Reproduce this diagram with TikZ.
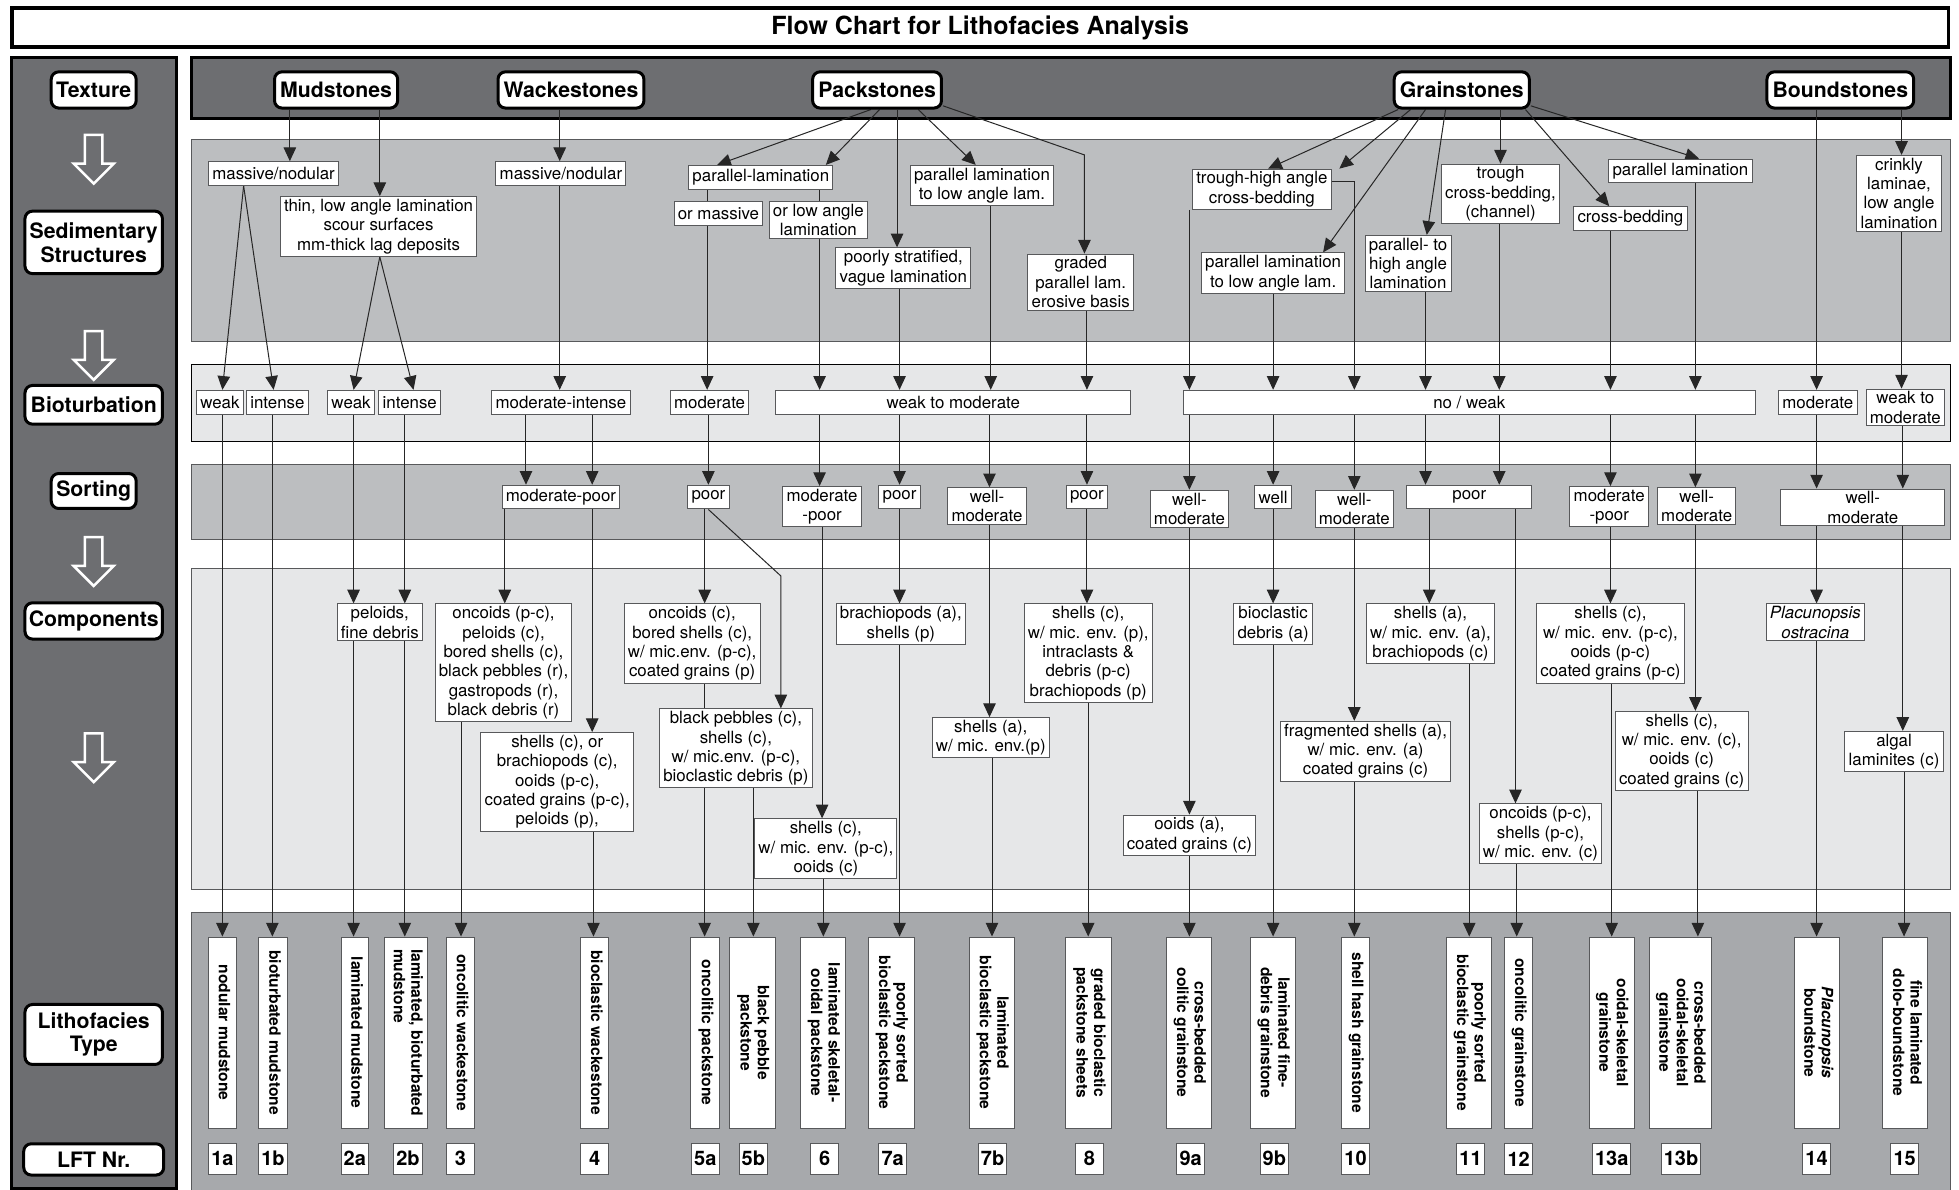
\documentclass[tikz,border=0pt]{standalone}
\usepackage{fontspec}
\setmainfont{TeX Gyre Heros}
\usetikzlibrary{arrows.meta}

\pgfdeclarelayer{bg}
\pgfdeclarelayer{mid}
\pgfsetlayers{bg,mid,main}

\definecolor{darkband}{HTML}{6D6E71}
\definecolor{midband}{HTML}{BCBEC0}
\definecolor{lightband}{HTML}{E6E7E8}
\definecolor{lithband}{HTML}{A7A9AC}
\definecolor{boxgray}{HTML}{58595B}
\definecolor{linkgray}{HTML}{262626}

\tikzset{
    band/.style={draw=boxgray, line width=0.8pt},
    rowname/.style={draw, line width=2.4pt, rounded corners=6pt, fill=white, align=center,
        inner sep=2pt, font=\fontsize{17}{19}\selectfont\bfseries},
    texture/.style={rowname, minimum height=29pt, inner xsep=4.5pt},
    sbox/.style={draw=boxgray, line width=0.8pt, fill=white, align=center, anchor=north,
        minimum height=19pt, inner xsep=3pt, inner ysep=2pt, font=\fontsize{13.5}{15.5}\selectfont},
    lith/.style={draw=boxgray, line width=0.8pt, fill=white, minimum height=153pt, inner sep=0pt,
        font=\fontsize{12.5}{14}\selectfont\bfseries},
    lftnr/.style={draw=boxgray, line width=0.8pt, fill=white, minimum height=25pt, minimum width=22pt,
        inner xsep=2pt, inner ysep=0pt, font=\fontsize{16}{18}\selectfont\bfseries},
    link/.style={draw=linkgray, line width=0.8pt, -{Triangle[length=11pt,width=10pt]}},
    plain/.style={draw=linkgray, line width=0.8pt},
    hollow/.style={draw=white, line width=2pt}
}

\newcommand{\linkdown}[3]{\draw[link] (#1,0 |- #2.south) -- (#1,0 |- #3.north);}
\newcommand{\vtext}[1]{\rotatebox{-90}{\begin{tabular}{@{}c@{}}#1\end{tabular}}}
\newcommand{\vtextl}[1]{\rotatebox{-90}{\begin{tabular}{@{}l@{}}#1\end{tabular}}}

\begin{document}
\begin{tikzpicture}[x=1pt, y=-1pt]
    \useasboundingbox (0,0) rectangle (1568,952);

    % bands and side column
    \begin{pgfonlayer}{bg}
        \fill[white] (0,0) rectangle (1568,952);
        \draw[fill=darkband, line width=2.5pt] (9,46) rectangle (141,951);
        \draw[fill=darkband, line width=2.4pt] (153,46) rectangle (1561,95);
        \draw[band, fill=midband] (153,112) rectangle (1561,273);
        \draw[band, draw=black, fill=lightband] (153,292) rectangle (1561,353);
        \draw[band, fill=midband] (153,372) rectangle (1561,432);
        \draw[band, fill=lightband] (153,455) rectangle (1561,712);
        \draw[band, fill=lithband] (153,730) rectangle (1561,956);
        \foreach \y in {108,265,430,587}
            \draw[hollow] (68,\y) -- ++(14,0) -- ++(0,23) -- ++(9,0) -- ++(-16,16) -- ++(-16,-16) -- ++(9,0) -- cycle;
    \end{pgfonlayer}

    \node[draw, line width=3pt, minimum width=1550pt, minimum height=31pt,
          font=\fontsize{20}{24}\selectfont\bfseries] (title) at (784.5,22) {Flow Chart for Lithofacies Analysis};

    % row names
    \node[rowname, minimum width=68pt, minimum height=29pt]  (ltex)  at (75,72)  {Texture};
    \node[rowname, minimum width=110pt, minimum height=50pt] (lsed)  at (75,194) {Sedimentary\\Structures};
    \node[rowname, minimum width=110pt, minimum height=31pt] (lbio)  at (75,324) {Bioturbation};
    \node[rowname, minimum width=68pt, minimum height=28pt]  (lsort) at (75,393) {Sorting};
    \node[rowname, minimum width=110pt, minimum height=29pt] (lcomp) at (75,497) {Components};
    \node[rowname, minimum width=110pt, minimum height=48pt] (llith) at (75,828) {Lithofacies\\Type};
    \node[rowname, minimum width=112pt, minimum height=25pt] (lnr)   at (75,928) {LFT Nr.};

    % texture
    \node[texture] (mud)   at (269,72)  {Mudstones};
    \node[texture] (wack)  at (457,72)  {Wackestones};
    \node[texture] (pack)  at (702,72)  {Packstones};
    \node[texture] (grain) at (1170,72) {Grainstones};
    \node[texture] (bound) at (1473,72) {Boundstones};

    % sedimentary structures
    \node[sbox] (msmass) at (219,129)  {massive/nodular};
    \node[sbox] (msthin) at (303,157)  {thin, low angle lamination\\scour surfaces\\mm-thick lag deposits};
    \node[sbox] (wkmass) at (449,129)  {massive/nodular};
    \node[sbox] (pkpar)  at (609,132)  {parallel-lamination};
    \node[sbox] (pkmas)  at (575,161)  {or massive};
    \node[sbox] (pklow)  at (655,161)  {or low angle\\lamination};
    \node[sbox] (pkpoor) at (723,198)  {poorly stratified,\\vague lamination};
    \node[sbox] (pkpl)   at (786,132)  {parallel lamination\\to low angle lam.};
    \node[sbox] (pkgrad) at (865,203)  {graded\\parallel lam.\\erosive basis};
    \node[sbox] (grtrh)  at (1010,135) {trough-high angle\\cross-bedding};
    \node[sbox] (grpl)   at (1019,202) {parallel lamination\\to low angle lam.};
    \node[sbox] (grph)   at (1127,188) {parallel- to\\high angle\\lamination};
    \node[sbox] (grtr)   at (1201,131) {trough\\cross-bedding,\\(channel)};
    \node[sbox] (grcb)   at (1305,165) {cross-bedding};
    \node[sbox] (grpar)  at (1345,127) {parallel lamination};
    \node[sbox] (bdcr)   at (1520,124) {crinkly\\laminae,\\low angle\\lamination};

    % bioturbation
    \node[sbox] (b1a)   at (176,312)  {weak};
    \node[sbox] (b1b)   at (222,312)  {intense};
    \node[sbox] (b2a)   at (281,312)  {weak};
    \node[sbox] (b2b)   at (328,312)  {intense};
    \node[sbox] (bmi)   at (449,312)  {moderate-intense};
    \node[sbox] (bmod)  at (568,312)  {moderate};
    \node[sbox, minimum width=284pt] (bwm) at (763,312) {weak to moderate};
    \node[sbox, minimum width=458pt] (bnw) at (1176,312) {no / weak};
    \node[sbox] (bmod2) at (1455,312) {moderate};
    \node[sbox] (bwm2)  at (1525,311) {weak to\\moderate};

    % sorting
    \node[sbox] (smp)  at (449,388)  {moderate-poor};
    \node[sbox] (s5)   at (567,388)  {poor};
    \node[sbox] (s6)   at (658,389)  {moderate\\-poor};
    \node[sbox] (s7a)  at (720,388)  {poor};
    \node[sbox] (s7b)  at (790,390)  {well-\\moderate};
    \node[sbox] (s8)   at (870,388)  {poor};
    \node[sbox] (s9a)  at (952,392)  {well-\\moderate};
    \node[sbox] (s9b)  at (1019,388) {well};
    \node[sbox] (s10)  at (1084,392) {well-\\moderate};
    \node[sbox, minimum width=100pt] (s11) at (1176,388) {poor};
    \node[sbox] (s13a) at (1288,389) {moderate\\-poor};
    \node[sbox] (s13b) at (1358,390) {well-\\moderate};
    \node[sbox, minimum width=131pt] (s14) at (1491,391) {well-\\moderate};

    % components
    \node[sbox] (c2)   at (304,483)  {peloids,\\fine debris};
    \node[sbox] (c3)   at (403,483)  {oncoids (p-c),\\peloids (c),\\bored shells (c),\\black pebbles (r),\\gastropods (r),\\black debris (r)};
    \node[sbox] (c4)   at (446,586)  {shells (c), or\\brachiopods (c),\\ooids (p-c),\\coated grains (p-c),\\peloids (p),};
    \node[sbox] (c5a)  at (554,483)  {oncoids (c),\\bored shells (c),\\w/ mic.env. (p-c),\\coated grains (p)};
    \node[sbox] (c5b)  at (589,567)  {black pebbles (c),\\shells (c),\\w/ mic.env. (p-c),\\bioclastic debris (p)};
    \node[sbox] (c6)   at (661,655)  {shells (c),\\w/ mic. env. (p-c),\\ooids (c)};
    \node[sbox] (c7a)  at (721,483)  {brachiopods (a),\\shells (p)};
    \node[sbox] (c7b)  at (793,574)  {shells (a),\\w/ mic. env.(p)};
    \node[sbox] (c8)   at (871,483)  {shells (c),\\w/ mic. env. (p),\\intraclasts \&\\debris (p-c)\\brachiopods (p)};
    \node[sbox] (c9a)  at (952,652)  {ooids (a),\\coated grains (c)};
    \node[sbox] (c9b)  at (1019,483) {bioclastic\\debris (a)};
    \node[sbox] (c10)  at (1093,577) {fragmented shells (a),\\w/ mic. env. (a)\\coated grains (c)};
    \node[sbox] (c11)  at (1145,483) {shells (a),\\w/ mic. env. (a),\\brachiopods (c)};
    \node[sbox] (c12)  at (1233,643) {oncoids (p-c),\\shells (p-c),\\w/ mic. env. (c)};
    \node[sbox] (c13a) at (1289,483) {shells (c),\\w/ mic. env. (p-c),\\ooids (p-c)\\coated grains (p-c)};
    \node[sbox] (c13b) at (1346,569) {shells (c),\\w/ mic. env. (c),\\ooids (c)\\coated grains (c)};
    \node[sbox] (c14)  at (1453,483) {\textit{Placunopsis}\\\textit{ostracina}};
    \node[sbox] (c15)  at (1516,585) {algal\\laminites (c)};

    % lithofacies types
    \node[lith, minimum width=22pt] (lt1a)  at (178,826.5)    {\vtext{nodular mudstone}};
    \node[lith, minimum width=23pt] (lt1b)  at (218.5,826.5)  {\vtext{bioturbated mudstone}};
    \node[lith, minimum width=22pt] (lt2a)  at (284,826.5)    {\vtext{laminated mudstone}};
    \node[lith, minimum width=34pt] (lt2b)  at (325,826.5)    {\vtextl{laminated, bioturbated\\mudstone}};
    \node[lith, minimum width=23pt] (lt3)   at (368.5,826.5)  {\vtext{oncolitic wackestone}};
    \node[lith, minimum width=22pt] (lt4)   at (476,826.5)    {\vtext{bioclastic wackestone}};
    \node[lith, minimum width=23pt] (lt5a)  at (564.5,826.5)  {\vtext{oncolitic packstone}};
    \node[lith, minimum width=37pt] (lt5b)  at (602.5,826.5)  {\vtext{black pebble\\packstone}};
    \node[lith, minimum width=36pt] (lt6)   at (659,826.5)    {\vtext{laminated skeletal-\\ooidal packstone}};
    \node[lith, minimum width=37pt] (lt7a)  at (713.5,826.5)  {\vtext{poorly sorted\\bioclastic packstone}};
    \node[lith, minimum width=36pt] (lt7b)  at (794,826.5)    {\vtext{laminated\\bioclastic packstone}};
    \node[lith, minimum width=37pt] (lt8)   at (871.5,826.5)  {\vtext{graded bioclastic\\packstone sheets}};
    \node[lith, minimum width=36pt] (lt9a)  at (952,826.5)    {\vtext{cross-bedded\\oolitic grainstone}};
    \node[lith, minimum width=36pt] (lt9b)  at (1019,826.5)   {\vtext{laminated fine-\\debris grainstone}};
    \node[lith, minimum width=22pt] (lt10)  at (1085,826.5)   {\vtext{shell hash grainstone}};
    \node[lith, minimum width=36pt] (lt11)  at (1176,826.5)   {\vtext{poorly sorted\\bioclastic grainstone}};
    \node[lith, minimum width=23pt] (lt12)  at (1215.5,826.5) {\vtext{oncolitic grainstone}};
    \node[lith, minimum width=36pt] (lt13a) at (1290,826.5)   {\vtext{ooidal-skeletal\\grainstone}};
    \node[lith, minimum width=50pt] (lt13b) at (1345,826.5)   {\vtext{cross-bedded\\ooidal-skeletal\\grainstone}};
    \node[lith, minimum width=36pt] (lt14)  at (1454,826.5)   {\vtext{\textit{Placunopsis}\\boundstone}};
    \node[lith, minimum width=36pt] (lt15)  at (1525,826.5)   {\vtext{fine laminated\\dolo-boundstone}};

    % LFT numbers
    \node[lftnr] (n1a)  at (178,927.5)    {1a};
    \node[lftnr] (n1b)  at (218.5,927.5)  {1b};
    \node[lftnr] (n2a)  at (284,927.5)    {2a};
    \node[lftnr] (n2b)  at (326.5,927.5)  {2b};
    \node[lftnr] (n3)   at (368.5,927.5)  {3};
    \node[lftnr] (n4)   at (476,927.5)    {4};
    \node[lftnr] (n5a)  at (564.5,927.5)  {5a};
    \node[lftnr] (n5b)  at (603,927.5)    {5b};
    \node[lftnr] (n6)   at (660,927.5)    {6};
    \node[lftnr] (n7a)  at (714.5,927.5)  {7a};
    \node[lftnr] (n7b)  at (794.5,927.5)  {7b};
    \node[lftnr] (n8)   at (872,927.5)    {8};
    \node[lftnr] (n9a)  at (953,927.5)    {9a};
    \node[lftnr] (n9b)  at (1020,927.5)   {9b};
    \node[lftnr] (n10)  at (1085,927.5)   {10};
    \node[lftnr] (n11)  at (1177,927.5)   {11};
    \node[lftnr] (n12)  at (1215.5,927.5) {12};
    \node[lftnr] (n13a) at (1290,927.5)   {13a};
    \node[lftnr] (n13b) at (1345.5,927.5) {13b};
    \node[lftnr] (n14)  at (1454,927.5)   {14};
    \node[lftnr] (n15)  at (1524.5,927.5) {15};

    \begin{pgfonlayer}{mid}
        % texture -> sedimentary structures
        \linkdown{232}{mud}{msmass}
        \linkdown{304}{mud}{msthin}
        \linkdown{448}{wack}{wkmass}
        \draw[link] (697,0 |- pack.south) -- (574,0 |- pkpar.north);
        \draw[link] (704,0 |- pack.south) -- (661,0 |- pkpar.north);
        \linkdown{718}{pack}{pkpoor}
        \draw[link] (735,0 |- pack.south) -- (781,0 |- pkpl.north);
        \draw[link] ([yshift=3pt]pack.south east) -- (868,124) -- (868,0 |- pkgrad.north);
        \draw[link] (1119,0 |- grain.south) -- (1015,0 |- grtrh.north);
        \draw[link] (1129,0 |- grain.south) -- (1072,0 |- grtrh.north);
        \draw[link] (1141,0 |- grain.south) -- (1059,0 |- grpl.north);
        \draw[link] (1157,0 |- grain.south) -- (1142,0 |- grph.north);
        \linkdown{1201}{grain}{grtr}
        \draw[link] (1221,0 |- grain.south) -- (1288,0 |- grcb.north);
        \draw[link] ([yshift=3pt]grain.south east) -- (1360,0 |- grpar.north);
        \linkdown{1454}{bound}{bmod2}
        \linkdown{1522}{bound}{bdcr}

        % sedimentary structures -> bioturbation
        \draw[link] (195,0 |- msmass.south) -- (178,0 |- b1a.north);
        \draw[link] (195,0 |- msmass.south) -- (219,0 |- b1b.north);
        \draw[link] (304,0 |- msthin.south) -- (283,0 |- b2a.north);
        \draw[link] (304,0 |- msthin.south) -- (331,0 |- b2b.north);
        \linkdown{448}{wkmass}{bmi}
        \draw[plain] (566,0 |- pkpar.south) -- (566,0 |- pkmas.north);
        \draw[plain] (656,0 |- pkpar.south) -- (656,0 |- pklow.north);
        \linkdown{566}{pkmas}{bmod}
        \linkdown{656}{pklow}{bwm}
        \linkdown{720}{pkpoor}{bwm}
        \linkdown{793}{pkpl}{bwm}
        \linkdown{870}{pkgrad}{bwm}
        \linkdown{952}{grtrh}{bnw}
        \draw[link] ([yshift=6pt]grtrh.east) -| (1084,0 |- bnw.north);
        \linkdown{1019}{grpl}{bnw}
        \linkdown{1141}{grph}{bnw}
        \linkdown{1200}{grtr}{bnw}
        \linkdown{1289}{grcb}{bnw}
        \linkdown{1357}{grpar}{bnw}
        \linkdown{1522}{bdcr}{bwm2}

        % bioturbation -> sorting
        \linkdown{178}{b1a}{lt1a}
        \linkdown{218}{b1b}{lt1b}
        \linkdown{283}{b2a}{c2}
        \linkdown{324}{b2b}{c2}
        \linkdown{421}{bmi}{smp}
        \linkdown{474}{bmi}{smp}
        \linkdown{567}{bmod}{s5}
        \linkdown{656}{bwm}{s6}
        \linkdown{720}{bwm}{s7a}
        \linkdown{792}{bwm}{s7b}
        \linkdown{870}{bwm}{s8}
        \linkdown{952}{bnw}{s9a}
        \linkdown{1019}{bnw}{s9b}
        \linkdown{1084}{bnw}{s10}
        \linkdown{1141}{bnw}{s11}
        \linkdown{1200}{bnw}{s11}
        \linkdown{1289}{bnw}{s13a}
        \linkdown{1357}{bnw}{s13b}
        \linkdown{1454}{bmod2}{s14}
        \linkdown{1523}{bwm2}{s14}

        % sorting -> components
        \linkdown{404}{smp}{c3}
        \linkdown{474}{smp}{c4}
        \linkdown{564}{s5}{c5a}
        \draw[link] (567,0 |- s5.south) -- (625,461) -- (625,0 |- c5b.north);
        \linkdown{658}{s6}{c6}
        \linkdown{720}{s7a}{c7a}
        \linkdown{792}{s7b}{c7b}
        \linkdown{870}{s8}{c8}
        \linkdown{952}{s9a}{c9a}
        \linkdown{1019}{s9b}{c9b}
        \linkdown{1084}{s10}{c10}
        \linkdown{1144}{s11}{c11}
        \linkdown{1213}{s11}{c12}
        \linkdown{1289}{s13a}{c13a}
        \linkdown{1357}{s13b}{c13b}
        \linkdown{1454}{s14}{c14}
        \linkdown{1523}{s14}{c15}

        % components -> lithofacies type
        \linkdown{283}{c2}{lt2a}
        \linkdown{324}{c2}{lt2b}
        \linkdown{369}{c3}{lt3}
        \linkdown{475}{c4}{lt4}
        \linkdown{564}{c5a}{lt5a}
        \linkdown{603}{c5b}{lt5b}
        \linkdown{659}{c6}{lt6}
        \linkdown{720}{c7a}{lt7a}
        \linkdown{794}{c7b}{lt7b}
        \linkdown{871}{c8}{lt8}
        \linkdown{952}{c9a}{lt9a}
        \linkdown{1019}{c9b}{lt9b}
        \linkdown{1084}{c10}{lt10}
        \linkdown{1176}{c11}{lt11}
        \linkdown{1214}{c12}{lt12}
        \linkdown{1290}{c13a}{lt13a}
        \linkdown{1359}{c13b}{lt13b}
        \linkdown{1454}{c14}{lt14}
        \linkdown{1524}{c15}{lt15}
    \end{pgfonlayer}
\end{tikzpicture}
\end{document}
